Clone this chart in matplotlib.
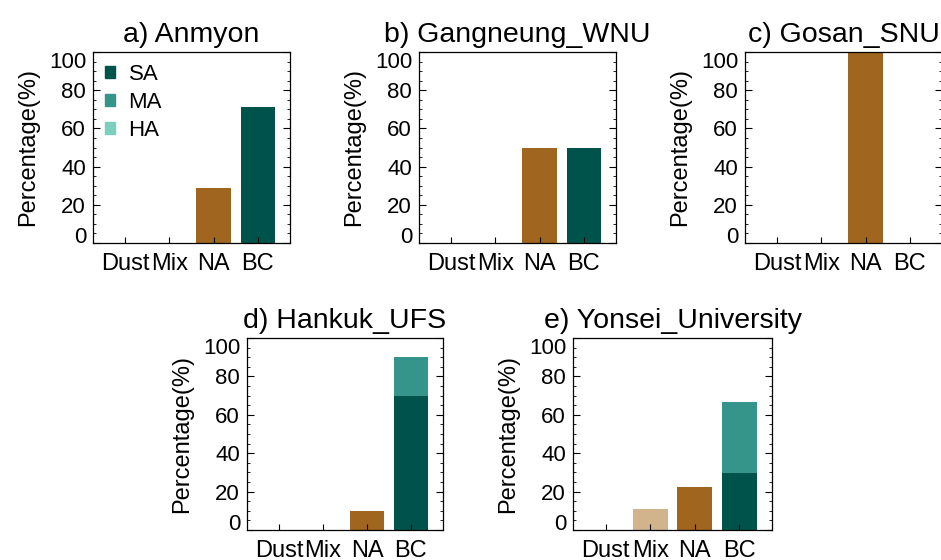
import numpy as np
import matplotlib
matplotlib.use('Agg')
import matplotlib.pyplot as plt
from matplotlib.patches import Patch
from matplotlib.ticker import MultipleLocator

plt.rcParams['font.family'] = ['Liberation Sans', 'DejaVu Sans']

categories = ['Dust', 'Mix', 'NA', 'BC']
stations = ['a) Anmyon', 'b) Gangneung_WNU', 'c) Gosan_SNU',
            'd) Hankuk_UFS', 'e) Yonsei_University']

# percentage per category, split by absorption class (SA/MA/HA) for BC
mix_vals = [0.0, 0.0, 0.0, 0.0, 11.1]
na_vals = [28.6, 50.0, 100.0, 10.0, 22.2]
bc_sa = [71.4, 50.0, 0.0, 70.0, 29.6]
bc_ma = [0.0, 0.0, 0.0, 20.0, 37.0]
bc_ha = [0.0, 0.0, 0.0, 0.0, 0.0]

c_sa = '#00534A'
c_ma = '#36958A'
c_ha = '#7DCFBD'
c_na = '#A0651E'
c_mix = '#D2B48C'

W, H = 941, 560
fig = plt.figure(figsize=(W / 100, H / 100), dpi=100)

# axes boxes in pixels: left, top, right, bottom
boxes = [(93, 52, 290, 243), (419, 52, 616, 243), (745, 52, 942, 243),
         (247, 338, 443, 530), (573, 338, 772, 530)]

x = np.arange(1, 5)
bw = 0.78
for i, (l, t, r, b) in enumerate(boxes):
    ax = fig.add_axes([l / W, 1 - b / H, (r - l) / W, (b - t) / H])
    ax.bar(x[1], mix_vals[i], bw, color=c_mix)
    ax.bar(x[2], na_vals[i], bw, color=c_na)
    ax.bar(x[3], bc_sa[i], bw, color=c_sa)
    ax.bar(x[3], bc_ma[i], bw, bottom=bc_sa[i], color=c_ma)
    ax.bar(x[3], bc_ha[i], bw, bottom=bc_sa[i] + bc_ma[i], color=c_ha)

    ax.set_xlim(0.27, 4.73)
    ax.set_ylim(0, 100)
    ax.set_xticks(x)
    ax.set_xticklabels(categories)
    ax.set_yticks([0, 20, 40, 60, 80, 100])
    ax.yaxis.set_minor_locator(MultipleLocator(5))
    ax.tick_params(axis='y', which='both', direction='in', left=True, right=True,
                   labelsize=16, pad=5)
    ax.tick_params(axis='y', which='major', length=5, width=0.8)
    ax.tick_params(axis='y', which='minor', length=2.5, width=0.6)
    ax.tick_params(axis='x', direction='in', length=4, width=0.8, labelsize=17, pad=7)
    for s in ax.spines.values():
        s.set_linewidth(0.9)
    ylabs = ax.get_yticklabels()
    ylabs[0].set_va('baseline')
    ylabs[-1].set_va('top')
    ax.set_ylabel('Percentage(%)', fontsize=17, labelpad=7)
    ax.set_title(stations[i], fontsize=20.5, pad=7)

    if i == 0:
        handles = [Patch(color=c_sa, label='SA'), Patch(color=c_ma, label='MA'),
                   Patch(color=c_ha, label='HA')]
        ax.legend(handles=handles, loc='upper left', frameon=False, fontsize=16,
                  handlelength=0.45, handleheight=0.45, handletextpad=0.6,
                  labelspacing=0.3, borderaxespad=0.15)

fig.savefig('out.png', dpi=100)
